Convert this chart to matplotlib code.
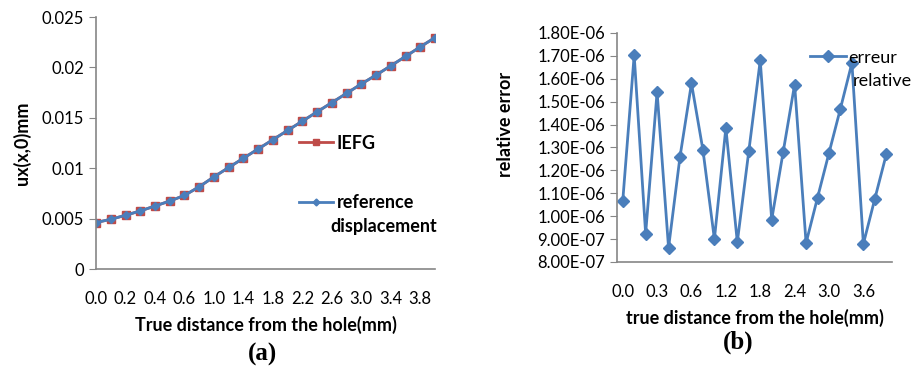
import matplotlib
matplotlib.use("Agg")
import matplotlib.pyplot as plt
from matplotlib.ticker import FuncFormatter

plt.rcParams['font.family'] = ['Lato', 'DejaVu Sans']

# categories (true distance from the hole, mm)
distance = ['0.0', '0.1', '0.2', '0.3', '0.4', '0.5', '0.6', '0.8', '1.0', '1.2',
            '1.4', '1.6', '1.8', '2.0', '2.2', '2.4', '2.6', '2.8', '3.0', '3.2',
            '3.4', '3.6', '3.8', '4.0']

# displacement ux(x,0) in mm
ref_disp = [0.00461, 0.00493, 0.00533, 0.00576, 0.00625, 0.00674, 0.0073, 0.00816,
            0.00914, 0.01007, 0.01099, 0.01191, 0.01283, 0.01375, 0.01467, 0.01559,
            0.01651, 0.01743, 0.01836, 0.01924, 0.02016, 0.02109, 0.02204, 0.02296]
iefg_disp = list(ref_disp)

# relative error
rel_err = [1.065e-6, 1.703e-6, 0.924e-6, 1.542e-6, 0.862e-6, 1.260e-6, 1.580e-6,
           1.289e-6, 0.900e-6, 1.385e-6, 0.887e-6, 1.283e-6, 1.680e-6, 0.985e-6,
           1.280e-6, 1.575e-6, 0.883e-6, 1.081e-6, 1.276e-6, 1.470e-6, 1.669e-6,
           0.879e-6, 1.076e-6, 1.270e-6]

left_ticks = [0.0, 0.005, 0.01, 0.015, 0.02, 0.025]
left_ticklabels = ['0', '0.005', '0.01', '0.015', '0.02', '0.025']

blue = '#4A7EBB'
red = '#BE4B48'
grey = '#868686'

fig = plt.figure(figsize=(9.18, 3.69), dpi=100)
idx = list(range(len(distance)))

# ---- (a) displacement ----
ax1 = fig.add_axes([0.1046, 0.271, 0.3693, 0.6829])
l1, = ax1.plot(idx, iefg_disp, color=red, lw=2, marker='s', ms=5.5, label='IEFG')
l2, = ax1.plot(idx, ref_disp, color=blue, lw=2, marker='D', ms=4.5, label='reference')
ax1.set_xlim(0, len(distance) - 1)
ax1.set_ylim(0, 0.025)
ax1.set_yticks(left_ticks)
ax1.set_yticklabels(left_ticklabels)
ax1.set_xticks(idx[::2])
ax1.set_xticklabels(distance[::2])
ax1.set_ylabel('ux(x,0)mm', fontweight='bold', fontsize=13, labelpad=8)
ax1.set_xlabel('True distance from the hole(mm)', fontweight='bold', fontsize=13, labelpad=6)
ax1.text(0.49, -0.34, '(a)', transform=ax1.transAxes, ha='center', va='center',
         family='Liberation Serif', fontweight='bold', fontsize=18)

leg1a = ax1.legend(handles=[l1], loc='center left', bbox_to_anchor=(0.55, 0.5),
                   frameon=False, prop={'weight': 'bold', 'size': 13},
                   handlelength=1.9, handletextpad=0.2)
ax1.add_artist(leg1a)
for h in leg1a.legend_handles:
    h.set_markersize(5)
leg1b = ax1.legend(handles=[l2], loc='center left', bbox_to_anchor=(0.55, 0.262),
                   frameon=False, prop={'weight': 'bold', 'size': 13},
                   handlelength=1.9, handletextpad=0.2)
for h in leg1b.legend_handles:
    h.set_markersize(3.5)
ax1.text(0.692, 0.17, 'displacement', transform=ax1.transAxes, ha='left', va='center',
         fontweight='bold', fontsize=13)

# ---- (b) relative error ----
ax2 = fig.add_axes([0.6721, 0.29, 0.2996, 0.6206])
l3, = ax2.plot(idx, rel_err, color=blue, lw=2, marker='D', ms=6.5, label='erreur')
ax2.set_xlim(-0.5, len(distance) - 0.5)
ax2.set_ylim(8e-7, 1.8e-6)
ax2.set_yticks([8e-7 + i * 1e-7 for i in range(11)])
ax2.yaxis.set_major_formatter(FuncFormatter(lambda v, p: '{:.2E}'.format(v)))
ax2.set_xticks(idx[::3])
ax2.set_xticklabels(distance[::3])
ax2.set_ylabel('relative error', fontweight='bold', fontsize=13)
ax2.yaxis.set_label_coords(-0.375, 0.6)
ax2.set_xlabel('true distance from the hole(mm)', fontweight='bold', fontsize=13, labelpad=6)
ax2.text(0.44, -0.35, '(b)', transform=ax2.transAxes, ha='center', va='center',
         family='Liberation Serif', fontweight='bold', fontsize=18)
ax2.legend(handles=[l3], loc='center left', bbox_to_anchor=(0.70, 0.892),
           frameon=False, fontsize=13, handlelength=2.0, handletextpad=0.15,
           borderaxespad=0, borderpad=0)
ax2.text(0.857, 0.79, 'relative', transform=ax2.transAxes, ha='left', va='center',
         fontsize=13)

for ax in (ax1, ax2):
    for s in ('top', 'right'):
        ax.spines[s].set_visible(False)
    for s in ('left', 'bottom'):
        ax.spines[s].set_color(grey)
        ax.spines[s].set_linewidth(1.2)
    ax.tick_params(axis='y', direction='out', length=5, color=grey, labelsize=12)
    ax.tick_params(axis='x', length=0, labelsize=12, pad=16)

fig.savefig('out.png', dpi=100)
